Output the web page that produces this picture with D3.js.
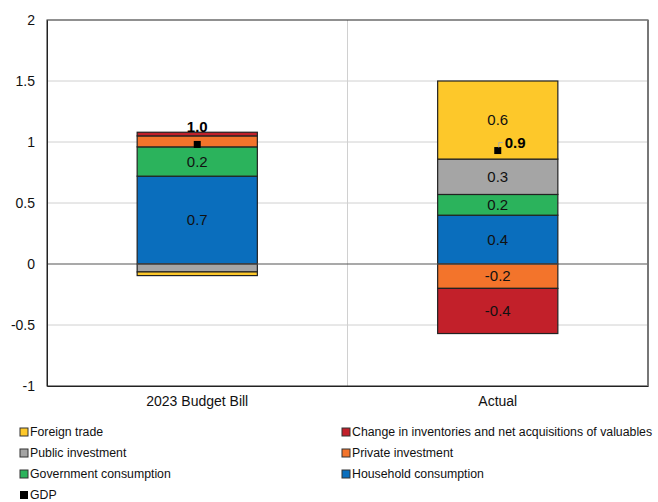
<!DOCTYPE html>
<html>
<head>
<meta charset="utf-8">
<script src="https://cdn.jsdelivr.net/npm/d3@7"></script>
<style>
body{margin:0;background:#fff;font-family:"Liberation Sans",Arial,sans-serif;}
</style>
</head>
<body>
<div id="chart"></div>
<script>
// data
const categories = ["2023 Budget Bill", "Actual"];
const seriesNames = ["Household consumption", "Government consumption", "Public investment",
  "Private investment", "Change in inventories and net acquisitions of valuables", "Foreign trade"];
const household = [0.72, 0.40];
const government = [0.24, 0.17];
const publicInv = [-0.065, 0.29];
const privateInv = [0.09, -0.20];
const inventories = [0.03, -0.37];
const foreignTrade = [-0.03, 0.64];
const gdp = [0.98, 0.93];
const gdpLabels = ["1.0", "0.9"];
const yTicks = [-1, -0.5, 0, 0.5, 1, 1.5, 2];

const colors = {
  "Household consumption": "#0a6ebd",
  "Government consumption": "#2bb35c",
  "Public investment": "#a5a5a5",
  "Private investment": "#f3742b",
  "Change in inventories and net acquisitions of valuables": "#c2202a",
  "Foreign trade": "#fdc82a"
};
const values = [household, government, publicInv, privateInv, inventories, foreignTrade];
// segment labels shown only on the larger pieces
const showLabel = [[true, true], [true, true], [false, true], [false, true], [false, true], [false, true]];

const font = "'Liberation Sans',Arial,sans-serif";
const W = 658, H = 502;
const margin = {top: 20, right: 10, bottom: 116, left: 47};
const width = W - margin.left - margin.right;
const height = H - margin.top - margin.bottom;

const svg = d3.select("#chart").append("svg")
  .attr("width", W).attr("height", H);

const g = svg.append("g").attr("transform", `translate(${margin.left},${margin.top})`);

const x = d3.scaleBand().domain(categories).range([0, width]).paddingInner(0).paddingOuter(0);
const y = d3.scaleLinear().domain([-1, 2]).range([height, 0]);
const fmt = v => d3.format(".1f")(v).replace("\u2212", "-");

// gridlines
g.selectAll(".grid").data(yTicks.filter(t => t !== 0 && t !== -1 && t !== 2)).enter()
  .append("line")
  .attr("x1", 0).attr("x2", width)
  .attr("y1", d => y(d)).attr("y2", d => y(d))
  .attr("stroke", "#d0d0d0").attr("stroke-width", 1);
// category separator
g.append("line")
  .attr("x1", x(categories[1])).attr("x2", x(categories[1]))
  .attr("y1", 0).attr("y2", height)
  .attr("stroke", "#d0d0d0");

// stacks
const barW = x.bandwidth() * 0.4;
categories.forEach((c, ci) => {
  let pos = 0, neg = 0;
  values.forEach((arr, si) => {
    const v = arr[ci];
    let y0, y1;
    if (v >= 0) { y0 = pos; y1 = pos + v; pos = y1; }
    else { y0 = neg; y1 = neg + v; neg = y1; }
    const cx = x(c) + x.bandwidth() / 2;
    g.append("rect")
      .attr("x", cx - barW / 2)
      .attr("width", barW)
      .attr("y", y(Math.max(y0, y1)))
      .attr("height", Math.abs(y(y0) - y(y1)))
      .attr("fill", colors[seriesNames[si]])
      .attr("stroke", "#222").attr("stroke-width", 1.2);
    if (showLabel[si][ci]) {
      g.append("text")
        .attr("x", cx)
        .attr("y", y((y0 + y1) / 2))
        .attr("dy", "0.35em")
        .attr("text-anchor", "middle")
        .attr("font-size", 15)
        .attr("font-family", font)
        .attr("fill", "#111")
        .text(fmt(v));
    }
  });
});

// zero line
g.append("line").attr("x1", 0).attr("x2", width)
  .attr("y1", y(0)).attr("y2", y(0)).attr("stroke", "#555").attr("stroke-width", 1.2);

// GDP markers
categories.forEach((c, ci) => {
  const cx = x(c) + x.bandwidth() / 2;
  g.append("rect")
    .attr("x", cx - 3.5).attr("y", y(gdp[ci]) - 3.5)
    .attr("width", 7).attr("height", 7).attr("fill", "#000");
});
// GDP labels
const lbl0x = x(categories[0]) + x.bandwidth() / 2;
g.append("text").attr("x", lbl0x).attr("y", y(gdp[0]) - 12)
  .attr("text-anchor", "middle").attr("font-size", 15).attr("font-weight", "bold")
  .attr("font-family", font).text(gdpLabels[0]);
const lbl1x = x(categories[1]) + x.bandwidth() / 2;
g.append("path")
  .attr("d", `M${lbl1x + 1},${y(gdp[1]) - 3} L${lbl1x + 1},${y(gdp[1]) - 8} L${lbl1x + 5},${y(gdp[1]) - 8}`)
  .attr("fill", "none").attr("stroke", "#aaa").attr("stroke-width", 1);
g.append("text").attr("x", lbl1x + 7).attr("y", y(gdp[1]) - 8).attr("dy", "0.35em")
  .attr("font-size", 15).attr("font-weight", "bold").attr("font-family", font).text(gdpLabels[1]);

// axes
const yAxis = d3.axisLeft(y).tickValues(yTicks).tickSize(0).tickPadding(12)
  .tickFormat(d => String(d).replace("\u2212", "-"));
const yAxisGroup = g.append("g").call(yAxis);
yAxisGroup.select(".domain").attr("stroke", "#222");
yAxisGroup.selectAll("text").attr("font-size", 14).attr("fill", "#111").attr("font-family", font);

const xAxisGroup = g.append("g").attr("transform", `translate(0,${height})`)
  .call(d3.axisBottom(x).tickSize(0).tickPadding(10));
xAxisGroup.select(".domain").attr("stroke", "#222");
xAxisGroup.selectAll("text").attr("font-size", 14).attr("fill", "#111").attr("font-family", font);

// frame
g.append("rect").attr("x", 0).attr("y", 0).attr("width", width).attr("height", height)
  .attr("fill", "none").attr("stroke", "#222").attr("stroke-width", 1);
g.append("line").attr("x1", width).attr("x2", width).attr("y1", 0).attr("y2", height)
  .attr("stroke", "#777").attr("stroke-width", 2);

// legend
const legendItems = [
  {name: "Foreign trade", col: 0, row: 0},
  {name: "Change in inventories and net acquisitions of valuables", col: 1, row: 0},
  {name: "Public investment", col: 0, row: 1},
  {name: "Private investment", col: 1, row: 1},
  {name: "Government consumption", col: 0, row: 2},
  {name: "Household consumption", col: 1, row: 2},
  {name: "GDP", col: 0, row: 3}
];
const legend = svg.append("g");
const texts = [];
let fontSize = 14;
legendItems.forEach(d => {
  const lx = d.col === 0 ? 20 : 342;
  const ly = 432 + d.row * 21;
  legend.append("rect").attr("x", lx).attr("y", ly - 4).attr("width", 8).attr("height", 8)
    .attr("fill", d.name === "GDP" ? "#000" : colors[d.name])
    .attr("stroke", d.name === "GDP" ? "none" : "#333").attr("stroke-width", 1);
  const t = legend.append("text").attr("x", lx + 10).attr("y", ly).attr("dy", "0.35em")
    .attr("font-size", 14).attr("font-family", font).attr("fill", "#111").text(d.name);
  texts.push(t);
  // shrink so the long label stays inside the picture
  const maxW = W - 4 - (lx + 10);
  const len = t.node().getComputedTextLength();
  if (len > maxW) fontSize = Math.min(fontSize, Math.floor(14 * maxW / len * 10) / 10);
});
texts.forEach(t => t.attr("font-size", fontSize));
</script>
</body>
</html>
